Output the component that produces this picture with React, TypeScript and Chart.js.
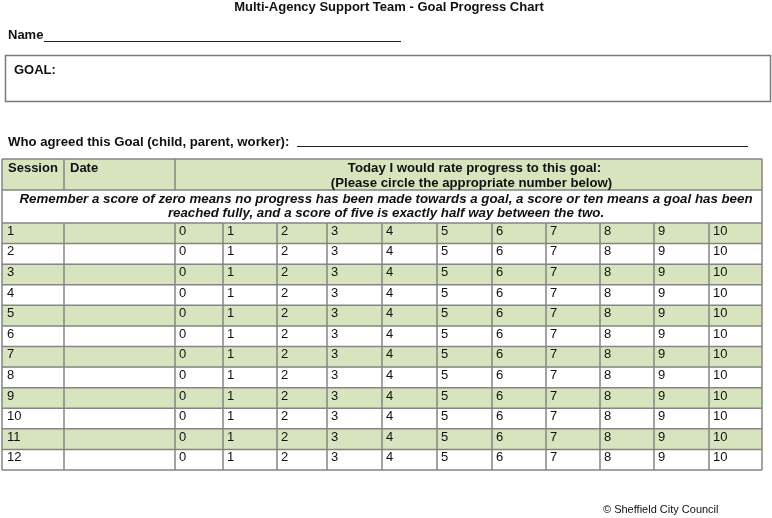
import React, { useEffect, useRef } from "react";
import { Chart, registerables } from "chart.js";

Chart.register(...registerables);

// ---- content ----
const title = "Multi-Agency Support Team - Goal Progress Chart";
const nameLabel = "Name";
const goalLabel = "GOAL:";
const agreedLabel = "Who agreed this Goal (child, parent, worker):";
const headerSession = "Session";
const headerDate = "Date";
const headerRateLines = [
  "Today I would rate progress to this goal:",
  "(Please circle the appropriate number below)",
];
const reminderLines = [
  "Remember a score of zero means no progress has been made towards a goal, a score or ten means a goal has been",
  "reached fully, and a score of five is exactly half way between the two.",
];
const copyright = "© Sheffield City Council";

const sessions = ["1", "2", "3", "4", "5", "6", "7", "8", "9", "10", "11", "12"];
const scores = ["0", "1", "2", "3", "4", "5", "6", "7", "8", "9", "10"];
const shadedRows = [true, false, true, false, true, false, true, false, true, false, true, false];

// ---- layout (sizes only) ----
const W = 772;
const H = 518;
const colWidths = [62, 111, 48, 54, 50, 55, 55, 55, 54, 54, 54, 55, 53];
const TOTAL = colWidths.reduce((a, b) => a + b, 0);
const GREEN = "#d7e4bd";
const BORDER = "#858585";
const TEXT = "#111111";
const FONT = "'Liberation Sans', Arial, sans-serif";

const tablePlugin = {
  id: "formTable",
  beforeDraw(chart: any) {
    const { ctx } = chart;
    ctx.save();
    ctx.fillStyle = "#ffffff";
    ctx.fillRect(0, 0, chart.width, chart.height);
    ctx.restore();
  },
  afterDatasetsDraw(chart: any) {
    const { ctx, chartArea: ca, scales } = chart;
    const x = scales.x;
    const y = scales.y;
    const edges: number[] = [0];
    colWidths.forEach((w) => edges.push(edges[edges.length - 1] + w));
    const ex = edges.map((e) => x.getPixelForValue(e));
    const rowH = y.getPixelForValue(1) - y.getPixelForValue(0);
    const left = ex[0];
    const right = ex[ex.length - 1];

    ctx.save();
    // ---- header rows ----
    const hTop = 159;
    const hMid = 190;
    const hBot = ca.top;
    ctx.fillStyle = GREEN;
    ctx.fillRect(left, hTop, right - left, hMid - hTop);

    ctx.strokeStyle = BORDER;
    ctx.lineWidth = 1.5;
    const line = (x1: number, y1: number, x2: number, y2: number) => {
      ctx.beginPath();
      ctx.moveTo(x1, y1);
      ctx.lineTo(x2, y2);
      ctx.stroke();
    };
    for (let i = 0; i <= sessions.length; i++) {
      const yy = y.getPixelForValue(0) - rowH / 2 + i * rowH;
      line(left, yy, right, yy);
    }
    ex.forEach((px) => line(px, ca.top, px, ca.bottom));
    line(left, hTop, right, hTop);
    line(left, hMid, right, hMid);
    line(left, hTop, left, hBot);
    line(right, hTop, right, hBot);
    line(ex[1], hTop, ex[1], hMid);
    line(ex[2], hTop, ex[2], hMid);

    // header text
    ctx.fillStyle = TEXT;
    ctx.textBaseline = "middle";
    ctx.font = `bold 13px ${FONT}`;
    ctx.textAlign = "left";
    ctx.fillText(headerSession, left + 6, 168);
    ctx.fillText(headerDate, ex[1] + 6, 168);
    ctx.textAlign = "center";
    ctx.font = `bold 13.2px ${FONT}`;
    const rc = (ex[2] + right) / 2 + 3;
    ctx.fillText(headerRateLines[0], rc + 3, 168);
    ctx.fillText(headerRateLines[1], rc, 183);
    ctx.font = `italic bold 13.3px ${FONT}`;
    const mc = (left + right) / 2 + 4;
    ctx.fillText(reminderLines[0], mc, 199);
    ctx.fillText(reminderLines[1], mc, 213);

    // body text
    ctx.font = `13px ${FONT}`;
    ctx.textAlign = "left";
    sessions.forEach((s, i) => {
      const cy = y.getPixelForValue(i) - 2;
      ctx.fillText(s, ex[0] + 5, cy);
      scores.forEach((sc, j) => {
        ctx.fillText(sc, ex[2 + j] + 4, cy);
      });
    });

    // ---- top of form ----
    ctx.textAlign = "center";
    ctx.font = `bold 13px ${FONT}`;
    ctx.fillText(title, 389, 7);

    ctx.textAlign = "left";
    ctx.font = `bold 13px ${FONT}`;
    ctx.fillText(nameLabel, 8, 35);
    ctx.strokeStyle = "#222";
    ctx.lineWidth = 1;
    line(44, 41.5, 401, 41.5);

    ctx.strokeStyle = "#7a7a7a";
    ctx.lineWidth = 1.5;
    ctx.strokeRect(5.5, 55.5, 765, 46);
    ctx.fillText(goalLabel, 14, 70);

    ctx.font = `bold 13.2px ${FONT}`;
    ctx.fillText(agreedLabel, 8, 142);
    ctx.strokeStyle = "#222";
    ctx.lineWidth = 1;
    line(297, 146.5, 748, 146.5);

    ctx.font = `11px ${FONT}`;
    ctx.fillText(copyright, 603, 510);
    ctx.restore();
  },
};

export default function App() {
  const ref = useRef<HTMLCanvasElement | null>(null);
  useEffect(() => {
    if (!ref.current) return;
    const chart = new Chart(ref.current, {
      type: "bar",
      data: {
        labels: sessions,
        datasets: [
          {
            label: "shading",
            data: shadedRows.map((s) => (s ? [0, TOTAL] : null)) as any,
            backgroundColor: GREEN,
            borderWidth: 0,
            barPercentage: 1,
            categoryPercentage: 1,
          },
        ],
      },
      options: {
        indexAxis: "y",
        animation: false,
        responsive: false,
        devicePixelRatio: 1,
        events: [],
        layout: { padding: { left: 2, right: W - 2 - TOTAL, top: 223, bottom: H - 470 } },
        plugins: { legend: { display: false }, tooltip: { enabled: false }, title: { display: false } },
        scales: {
          x: { type: "linear", min: 0, max: TOTAL, display: false },
          y: { type: "category", display: false, offset: true },
        },
      },
      plugins: [tablePlugin],
    });
    return () => chart.destroy();
  }, []);
  return (
    <div style={{ position: "absolute", left: 0, top: 0, width: W, height: H, background: "#fff" }}>
      <canvas ref={ref} width={W} height={H} style={{ display: "block" }} />
    </div>
  );
}
